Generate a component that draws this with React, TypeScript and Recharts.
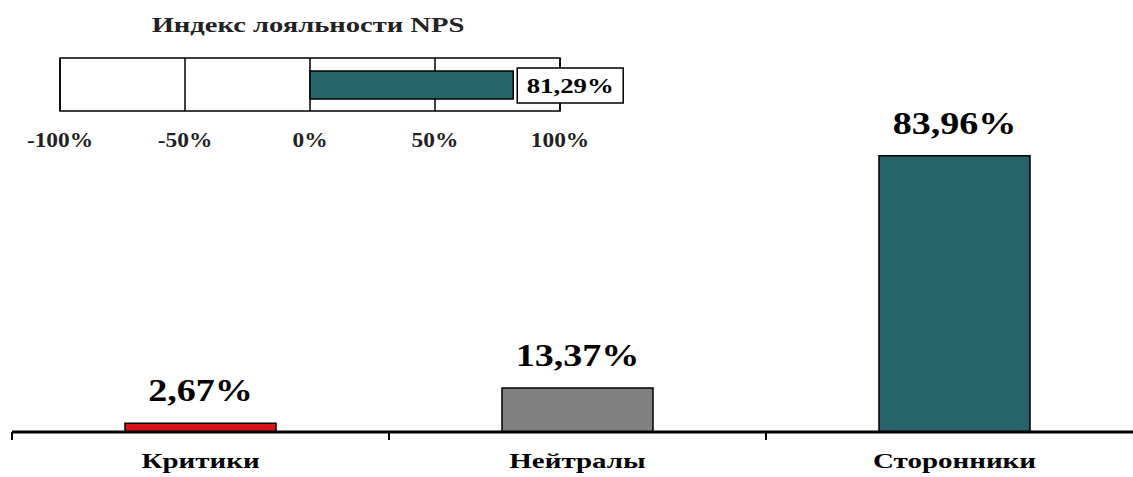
import { Bar, BarChart, CartesianGrid, Cell, LabelList, ReferenceArea, XAxis, YAxis } from 'recharts';

const categories = ['Критики', 'Нейтралы', 'Сторонники'];
const shares = [2.67, 13.37, 83.96];
const barColors = ['#D7141A', '#808080', '#27646A'];

const npsTitle = 'Индекс лояльности NPS';
const npsLabel = 'NPS';
const npsValue = 81.29;
const npsTicks = [-100, -50, 0, 50, 100];

const FONT = '"Liberation Serif", "DejaVu Serif", serif';

const mainData = categories.map((name, i) => ({ name, value: shares[i], pos: i + 0.5 }));
const npsData = [{ name: npsLabel, value: npsValue }];

const fmt = (v: number) => v.toFixed(2).replace('.', ',') + '%';

// the source picture is stretched sideways, so text is widened with scaleX
const WideText = ({ x, y, sx, size, children, fill = '#000' }: any) => (
  <text
    transform={`translate(${x},${y}) scale(${sx},1)`}
    textAnchor="middle"
    fontFamily={FONT}
    fontWeight="bold"
    fontSize={size}
    fill={fill}
  >
    {children}
  </text>
);

const FrameTick = (props: any) => {
  const { x, y, payload } = props;
  const v = payload.value;
  if (Number.isInteger(v)) {
    return <line x1={x} x2={x} y1={y} y2={y + 8} stroke="#000" strokeWidth={2} />;
  }
  const name = categories[Math.floor(v)];
  return (
    <WideText x={x} y={y + 36} sx={1.45} size={20}>
      {name}
    </WideText>
  );
};

const BarValueLabel = (props: any) => {
  const { x, y, width, value } = props;
  return (
    <WideText x={x + width / 2} y={y - 22} sx={1.19} size={32}>
      {fmt(Number(value))}
    </WideText>
  );
};

const NpsTick = (props: any) => {
  const { x, y, payload } = props;
  return (
    <WideText x={x} y={y + 36} sx={1.17} size={20} fill="#222">
      {`${payload.value}%`}
    </WideText>
  );
};

const NpsValueLabel = (props: any) => {
  const { x, y, width, height, value } = props;
  const bx = x + width + 4;
  const cy = y + height / 2;
  return (
    <g>
      <rect x={bx} y={cy - 17} width={106} height={35} fill="#fff" stroke="#000" strokeWidth={1.5} />
      <WideText x={bx + 53} y={cy + 8} sx={1.22} size={22}>
        {fmt(Number(value))}
      </WideText>
    </g>
  );
};

const App = () => {
  return (
    <div style={{ position: 'absolute', left: 0, top: 0, width: 1133, height: 477, background: '#fff', fontFamily: FONT }}>
      <BarChart
        width={1133}
        height={477}
        data={mainData}
        margin={{ top: 103, right: -10, left: 12, bottom: 0 }}
        barCategoryGap={0}
      >
        <XAxis
          xAxisId="frame"
          type="number"
          dataKey="pos"
          domain={[0, 3]}
          ticks={[0, 0.5, 1, 1.5, 2, 2.5, 3]}
          height={45}
          axisLine={{ stroke: '#000', strokeWidth: 3 }}
          tickLine={false}
          tickSize={0}
          tickMargin={0}
          interval={0}
          tick={<FrameTick />}
        />
        <XAxis xAxisId="cat" dataKey="name" hide height={0} />
        <YAxis hide domain={[0, 100]} />
        <Bar xAxisId="cat" dataKey="value" barSize={151} stroke="#000" strokeWidth={1.5} isAnimationActive={false}>
          {mainData.map((d, i) => (
            <Cell key={d.name} fill={barColors[i]} />
          ))}
          <LabelList dataKey="value" content={BarValueLabel} />
        </Bar>
      </BarChart>

      <div style={{ position: 'absolute', left: 0, top: 0 }}>
        <div
          style={{
            position: 'absolute',
            left: 108,
            width: 400,
            top: 15,
            lineHeight: '20px',
            textAlign: 'center',
            fontFamily: FONT,
            fontWeight: 'bold',
            fontSize: 21,
            color: '#222',
            transform: 'scaleX(1.36)',
            whiteSpace: 'nowrap',
          }}
        >
          {npsTitle}
        </div>
        <BarChart
          width={640}
          height={160}
          data={npsData}
          layout="vertical"
          margin={{ top: 58, right: 80, left: 60, bottom: 0 }}
        >
          <ReferenceArea x1={-100} x2={100} fill="#fff" fillOpacity={0} stroke="#000" strokeWidth={1.5} />
          <CartesianGrid horizontal={false} stroke="#000" strokeWidth={1.5} />
          <XAxis
            type="number"
            domain={[-100, 100]}
            ticks={npsTicks}
            height={49}
            axisLine={false}
            tickLine={false}
            tickSize={0}
            tickMargin={0}
            interval={0}
            tick={<NpsTick />}
          />
          <YAxis type="category" dataKey="name" hide />
          <Bar dataKey="value" barSize={28} fill="#27646A" stroke="#000" strokeWidth={1.5} isAnimationActive={false}>
            <LabelList dataKey="value" content={NpsValueLabel} />
          </Bar>
        </BarChart>
      </div>
    </div>
  );
};

export default App;
